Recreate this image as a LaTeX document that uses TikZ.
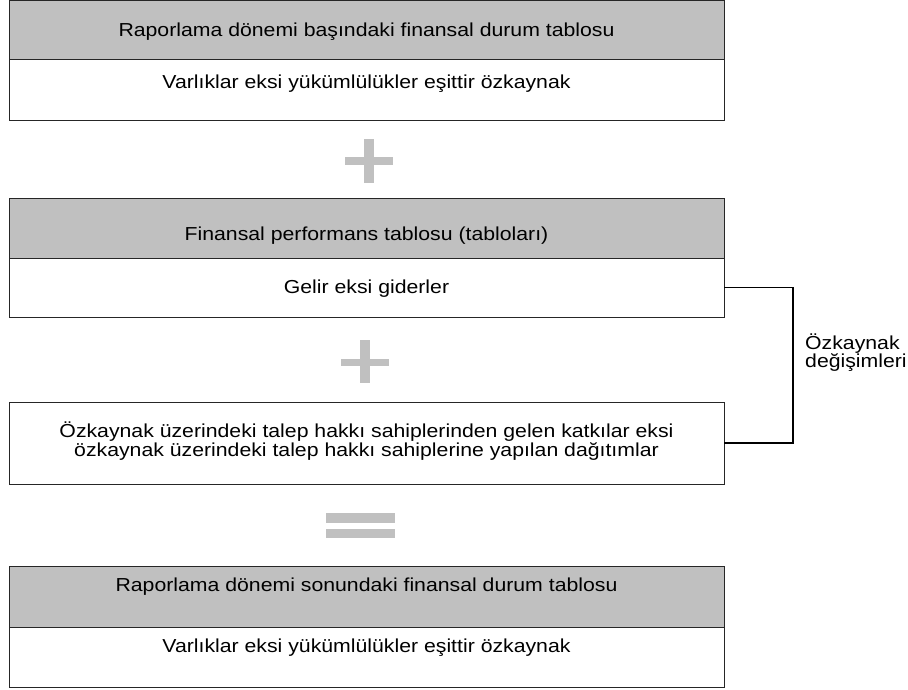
\documentclass[tikz,border=0pt]{standalone}
\usepackage{fontspec}
\setmainfont{Liberation Sans}[FakeStretch=1.13]
\definecolor{hdrgray}{HTML}{C0C0C0}
\definecolor{edge}{HTML}{262626}
\begin{document}
\begin{tikzpicture}[x=1pt,y=-1pt,
  box/.style={draw=edge, line width=1pt, anchor=north west, inner sep=0pt, outer sep=0pt, minimum width=715pt},
  hdrbox/.style={box, fill=hdrgray},
  txt/.style={font=\fontsize{18.8}{18.5}\selectfont, anchor=base, inner sep=0pt, align=center},
  sym/.style={fill=hdrgray},
  bracket/.style={draw=black, line width=1.3pt}]
\useasboundingbox (0,0) rectangle (908,690);
% box 1
\node[hdrbox, minimum height=59pt] (b1h) at (9,1) {};
\node[box, minimum height=61pt] (b1b) at (9,60) {};
\node[txt] (t1h) at (366.5,36.3) {Raporlama dönemi başındaki finansal durum tablosu};
\node[txt] (t1b) at (366.5,88.3) {Varlıklar eksi yükümlülükler eşittir özkaynak};
% plus 1
\fill[sym] (345,157) rectangle (393,165);
\fill[sym] (363.5,139) rectangle (373.5,183);
% box 2
\node[hdrbox, minimum height=60pt] (b2h) at (9,198) {};
\node[box, minimum height=59pt] (b2b) at (9,258) {};
\node[txt] (t2h) at (366.5,240) {Finansal performans tablosu (tabloları)};
\node[txt] (t2b) at (366.5,293.3) {Gelir eksi giderler};
% plus 2
\fill[sym] (341,358.5) rectangle (389,365.5);
\fill[sym] (360,340) rectangle (370,383);
% box 3
\node[box, minimum height=82pt] (b3) at (9,402) {};
\node[txt] (t3) at (366.5,456.2) {Özkaynak üzerindeki talep hakkı sahiplerinden gelen katkılar eksi\\özkaynak üzerindeki talep hakkı sahiplerine yapılan dağıtımlar};
% equals
\fill[sym] (326,513) rectangle (395,523);
\fill[sym] (326,529) rectangle (395,538);
% box 4
\node[hdrbox, minimum height=61pt] (b4h) at (9,566) {};
\node[box, minimum height=60pt] (b4b) at (9,627) {};
\node[txt] (t4h) at (366.5,591.7) {Raporlama dönemi sonundaki finansal durum tablosu};
\node[txt] (t4b) at (366.5,652.7) {Varlıklar eksi yükümlülükler eşittir özkaynak};
% bracket
\draw[bracket] (b2b.east) -- ++(69,0) coordinate (bk) |- (b3.east);
\node[txt, anchor=base west, align=left] (lbl) at (805,367.7) {Özkaynak\\değişimleri};
\end{tikzpicture}
\end{document}
